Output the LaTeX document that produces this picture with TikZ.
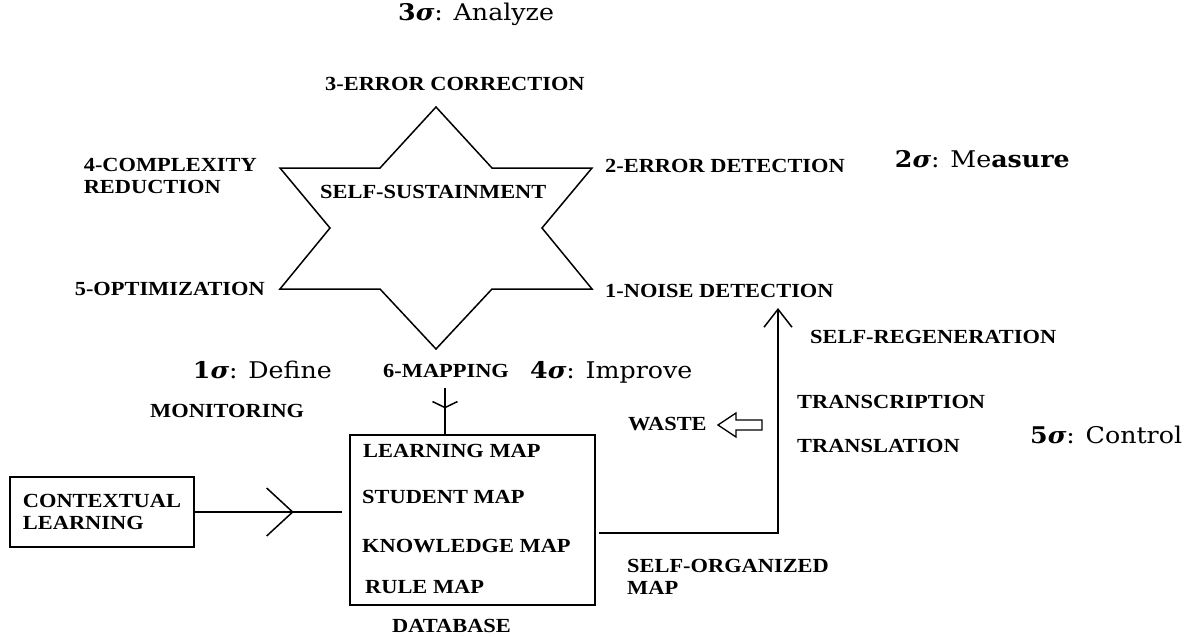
\documentclass[tikz,border=0pt]{standalone}
\usepackage{fontspec}
\setmainfont{Liberation Serif}
\newfontfamily\labfont[FakeStretch=1.12]{Liberation Serif}
\newfontfamily\sigfont[FakeStretch=1.1]{DejaVu Serif}
\usetikzlibrary{arrows.meta,decorations.markings}

\begin{document}
\begin{tikzpicture}[x=1pt,y=-1pt,
  lab/.style={font=\labfont\bfseries\fontsize{20}{22}\selectfont, inner sep=0pt, anchor=base west},
  sig/.style={font=\sigfont\fontsize{23}{27}\selectfont, inner sep=0pt, anchor=base west},
  line/.style={line width=1.5pt, line join=miter},
  boxed/.style={draw, line width=1.5pt},
  midbarb/.style 2 args={decoration={markings,
      mark=at position #1 with {\arrow{#2}}}, postaction=decorate}
]
\useasboundingbox (0,0) rectangle (1186,637);

% six-pointed star
\draw[line] (436,107) -- (492,168) -- (592,168) -- (542,228) -- (592,289)
  -- (492,289) -- (436,349) -- (380,289) -- (280,289) -- (330,228)
  -- (280,168) -- (380,168) -- cycle;
\node[lab] (ss) at (320,198) {SELF-SUSTAINMENT};

% stage labels round the star
\node[sig] (s3) at (398,20) {{\bfseries 3\itshape σ}: Analyze};
\node[lab] (e3) at (325,90) {3-ERROR CORRECTION};
\node[lab, anchor=north east, align=left] (e4) at (257,158) {4-COMPLEXITY\\REDUCTION};
\node[lab] (e2) at (605,172) {2-ERROR DETECTION};
\node[sig, anchor=base east] (s2) at (1070,167) {{\bfseries 2\itshape σ}: Me\textbf{asure}};
\node[lab, anchor=base east] (e5) at (265,295) {5-OPTIMIZATION};
\node[lab] (e1) at (605,297) {1-NOISE DETECTION};
\node[lab] (sr) at (810,343) {SELF-REGENERATION};
\node[sig, anchor=base east] (s1) at (332,378) {{\bfseries 1\itshape σ}: Define};
\node[lab] (map) at (383,377) {6-MAPPING};
\node[sig] (s4) at (530,378) {{\bfseries 4\itshape σ}: Improve};
\node[lab] (mon) at (150,417) {MONITORING};
\node[lab] (waste) at (628,430) {WASTE};
\node[lab] (tc) at (797,408) {TRANSCRIPTION};
\node[lab] (tl) at (797,452) {TRANSLATION};
\node[sig] (s5) at (1030,443) {{\bfseries 5\itshape σ}: Control};

% database box and its maps
\node[boxed, minimum width=245pt, minimum height=170pt, inner sep=0pt] (db) at (472.5,520) {};
\node[lab] (lm) at (363,457) {LEARNING MAP};
\node[lab] (sm) at (362,503) {STUDENT MAP};
\node[lab] (km) at (362,552) {KNOWLEDGE MAP};
\node[lab] (rm) at (365,593) {RULE MAP};
\node[lab] (dbl) at (392,632) {DATABASE};

% contextual learning input
\node[boxed, minimum width=184pt, minimum height=70pt, align=left,
  font=\labfont\bfseries\fontsize{20}{22}\selectfont] (ctx) at (102,512) {CONTEXTUAL\\LEARNING};
\node[lab, anchor=north west, align=left] (so) at (627,559) {SELF-ORGANIZED\\MAP};

% connectors
\draw[line, midbarb={99pt}{Straight Barb[length=26pt,width=48pt]}]
  (ctx.east) -- ([xshift=-7pt]db.west |- ctx.east);
\draw[line, midbarb={20pt}{Straight Barb[length=6pt,width=25pt]}]
  ([yshift=-11pt]map.south -| 445,0) -- (445,0 |- db.north);
\coordinate (bend) at (778,533);
\coordinate (regen) at (778,308);
\draw[line, -{Straight Barb[length=18pt,width=28pt]}]
  ([xshift=3pt]db.east |- bend) -- (bend) -- (regen);

% hollow arrow pointing to the waste label
\coordinate (wtip) at (718,425);
\draw[line width=1.3pt, line join=miter] (wtip) -- ++(18,-12) -- ++(0,7) -- ++(26,0)
  -- ++(0,10) -- ++(-26,0) -- ++(0,7) -- cycle;
\end{tikzpicture}
\end{document}
